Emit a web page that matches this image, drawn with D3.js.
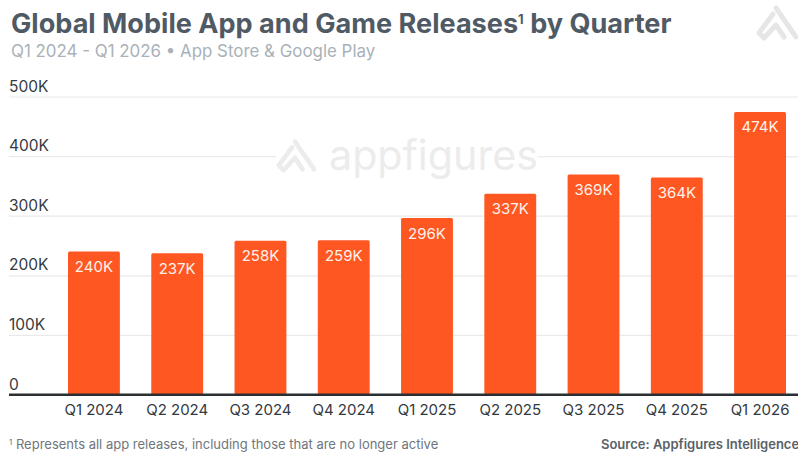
<!DOCTYPE html>
<html>
<head>
<meta charset="utf-8">
<style>
  html, body { margin: 0; padding: 0; background: #fff; }
  svg { display: block; }
  text { font-family: "Inter", "Lato", sans-serif; }
</style>
<script src="https://cdn.jsdelivr.net/npm/d3@7"></script>
</head>
<body>
<svg id="chart" width="798" height="455"></svg>
<script>
// Quarterly release counts, in thousands
const quarters = ["Q1 2024", "Q2 2024", "Q3 2024", "Q4 2024", "Q1 2025", "Q2 2025", "Q3 2025", "Q4 2025", "Q1 2026"];
const releases = [240, 237, 258, 259, 296, 337, 369, 364, 474];
const yTicks = [0, 100, 200, 300, 400, 500];

const svg = d3.select("#chart");
const x = d3.scaleBand().domain(quarters).range([52.3, 801.7]).paddingInner(0.377).paddingOuter(0.1885);
const y = d3.scaleLinear().domain([0, 500]).range([394.5, 96.5]);
const fmt = v => v === 0 ? "0" : v + "K";

// Gridlines and value-axis labels
const yAxis = d3.axisLeft(y).tickValues(yTicks).tickFormat(fmt).tickSize(0);
const yG = svg.append("g").attr("transform", "translate(9,0)").call(yAxis);
yG.select(".domain").remove();
yG.selectAll("text")
  .attr("text-anchor", "start").attr("x", 0).attr("dy", -5.5)
  .style("font-size", "15.5px").style("fill", "#333a40");
yG.selectAll("line")
  .attr("x1", 0).attr("x2", 789)
  .attr("stroke", d => d === 0 ? "#2b2f33" : "#eaeaea")
  .attr("stroke-width", d => d === 0 ? 2 : 1.2);

// Logo mark: one long diagonal plus a looped left arm
function logo(parent, tx, ty, s, color) {
  const diagonal = [[21, 8], [41, 37]];
  const loop = [[18, 14], [4, 33], [9, 38], [21, 25], [29, 37]];
  const g = parent.append("g").attr("transform", `translate(${tx},${ty}) scale(${s})`)
    .attr("fill", "none").attr("stroke", color).attr("stroke-width", 5)
    .attr("stroke-linecap", "round").attr("stroke-linejoin", "round");
  g.append("path").attr("d", d3.line()(diagonal));
  g.append("path").attr("d", d3.line()(loop));
}

// Central watermark sits on a white patch that interrupts the gridline
svg.append("rect").attr("x", 276).attr("y", 136).attr("width", 262).attr("height", 40).attr("fill", "#fff");
logo(svg, 275, 134, 0.95, "#ececec");
svg.append("text").attr("x", 329).attr("y", 170)
  .text("appfigures").style("font-size", "41.2px").style("fill", "#ececec").style("font-weight", 400);
logo(svg, 755, 0, 1, "#e6e6e6");

// Bars
svg.append("g").selectAll("rect").data(quarters).join("rect")
  .attr("x", d => x(d))
  .attr("width", x.bandwidth())
  .attr("y", (d, i) => y(releases[i]))
  .attr("height", (d, i) => y(0) - y(releases[i]))
  .attr("rx", 1.5)
  .attr("fill", "#ff5722");

// Baseline drawn over the bar feet
svg.append("line").attr("x1", 9).attr("x2", 798).attr("y1", 394.5).attr("y2", 394.5)
  .attr("stroke", "#2b2f33").attr("stroke-width", 2);

// Value labels inside the bar tops
svg.append("g").selectAll("text").data(quarters).join("text")
  .attr("x", d => x(d) + x.bandwidth() / 2)
  .attr("y", (d, i) => y(releases[i]) + 20.5)
  .attr("text-anchor", "middle")
  .style("font-size", "15px").style("fill", "#fff2ea")
  .text((d, i) => releases[i] + "K");

// Category axis
const xAxis = d3.axisBottom(x).tickSize(0);
const xG = svg.append("g").attr("transform", "translate(0,395)").call(xAxis);
xG.select(".domain").remove();
xG.selectAll("text").attr("y", 9).attr("dy", "0.71em")
  .style("font-size", "15px").style("fill", "#33393f");

// Headline block
const title = svg.append("text").attr("x", 11).attr("y", 33)
  .style("font-size", "27.1px").style("font-weight", 700).style("fill", "#4f5a65");
title.append("tspan").text("Global Mobile App and Game Releases");
title.append("tspan").text("1").attr("dy", -9).style("font-size", "13px");
title.append("tspan").text(" by Quarter").attr("dy", 9);

svg.append("text").attr("x", 11).attr("y", 57)
  .text("Q1 2024 - Q1 2026 • App Store & Google Play")
  .style("font-size", "16.9px").style("fill", "#a9b1b9");

// Footnote and source
const note = svg.append("text").attr("x", 9).attr("y", 449)
  .style("font-size", "13px").style("fill", "#6f767d");
note.append("tspan").text("1").attr("dy", -4).style("font-size", "8px");
note.append("tspan").text(" Represents all app releases, including those that are no longer active").attr("dy", 4);

svg.append("text").attr("x", 601).attr("y", 449)
  .text("Source: Appfigures Intelligence")
  .style("font-size", "13px").style("font-weight", 600).style("fill", "#5a6168");
</script>
</body>
</html>
